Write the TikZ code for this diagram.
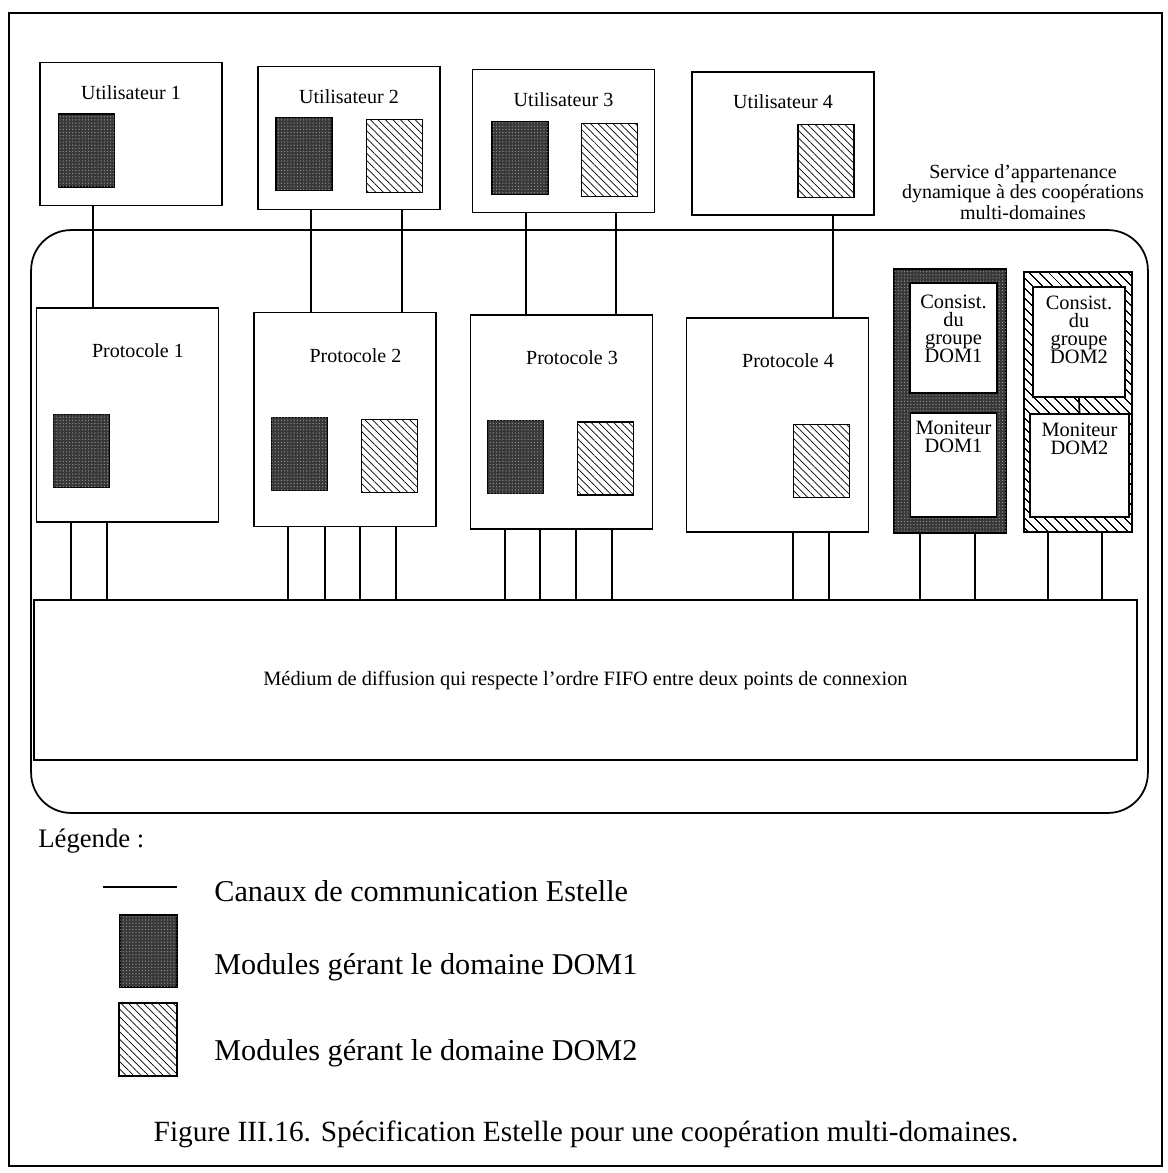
\documentclass[tikz,border=0pt]{standalone}
\usepackage{fontspec}
\setmainfont{Liberation Serif}
\usetikzlibrary{patterns.meta}

\tikzset{
  box/.style={draw, line width=1pt, fill=white, inner sep=0pt},
  userbox/.style={box, minimum width=3.64cm, minimum height=2.86cm},
  protobox/.style={box, minimum width=3.64cm, minimum height=4.28cm},
  darkfill/.style={fill=black!78, postaction={pattern={Dots[distance=1.8pt, radius=0.4pt]}, pattern color=black!45}},
  hatchfill/.style={pattern={Lines[angle=-45, distance=3pt, line width=0.4pt]}},
  dommod/.style={draw, line width=1pt, minimum width=1.12cm, minimum height=1.46cm, darkfill},
  hatchmod/.style={draw, line width=1pt, minimum width=1.12cm, minimum height=1.46cm, hatchfill},
  chan/.style={line width=1.6pt},
  small/.style={inner sep=0pt, font=\fontsize{11.4}{11.5}\selectfont},
  tight/.style={inner sep=0pt, align=center, font=\fontsize{11.6}{10.3}\selectfont},
  big/.style={inner sep=0pt, font=\fontsize{17.2}{19}\selectfont},
}

\begin{document}
\begin{tikzpicture}[x=0.02cm, y=-0.02cm]
    \useasboundingbox (0,0) rectangle (1168,1173);
    % page frame and service container
    \draw[line width=0.9pt] (9,13) rectangle (1162,1166);
    \node[draw, line width=1pt, rounded corners=0.8cm, minimum width=22.34cm, minimum height=11.66cm] (service) at (589.5,521.5) {};
    \node[small, align=center] (servicet) at (1023,192) {Service d'appartenance\\dynamique à des coopérations\\multi-domaines};
    % users and protocols
    \foreach \i/\x/\y in {1/131/134, 2/349/138, 3/563.5/141, 4/783/143.5} {
        \node[userbox] (u\i) at (\x,\y) {};
        \node[small] (u\i t) at (\x,\y-41.5) {Utilisateur \i};
    }
    \foreach \i/\x/\y in {1/127.5/415, 2/345/419.5, 3/561.5/422, 4/777.5/425} {
        \node[protobox] (p\i) at (\x,\y) {};
        \node[small] (p\i t) at (\x+10.5,\y-64) {Protocole \i};
    }
    % modules of DOM1 and DOM2
    \foreach \x/\y [count=\k] in {86.5/150.5, 304/154, 520/158, 81.5/451, 299.5/454, 515.5/457}
        \node[dommod] (d\k) at (\x,\y) {};
    \foreach \x/\y [count=\k] in {394.5/156, 609.5/160, 826/161, 389.5/456, 605.5/458.5, 821.5/461}
        \node[hatchmod] (h\k) at (\x,\y) {};
    % group consistency and monitors
    \node[draw, line width=1pt, minimum width=2.24cm, minimum height=5.28cm, darkfill] (dom1) at (950,401) {};
    \node[box, minimum width=1.74cm, minimum height=2.2cm] (cons1) at (953.5,338) {};
    \node[box, minimum width=1.72cm, minimum height=2.08cm] (mon1) at (953.5,465) {};
    \node[tight] (cons1t) at (953.5,329) {Consist.\\du\\groupe\\DOM1};
    \node[tight] (mon1t) at (953.5,437) {Moniteur\\DOM1};
    \node[draw, line width=1pt, minimum width=2.16cm, minimum height=5.2cm, pattern={Lines[angle=-45, distance=4pt, line width=0.7pt]}] (dom2) at (1078,402) {};
    \node[box, minimum width=1.84cm, minimum height=2.2cm] (cons2) at (1079,342) {};
    \node[box, minimum width=1.98cm, minimum height=2.06cm] (mon2) at (1079.5,465.5) {};
    \node[tight] (cons2t) at (1079,330) {Consist.\\du\\groupe\\DOM2};
    \node[tight] (mon2t) at (1079.5,439) {Moniteur\\DOM2};
    \draw[line width=1pt] (cons2.south) -- (mon2.north);
    % broadcast medium
    \node[box, minimum width=22.06cm, minimum height=3.2cm, font=\fontsize{11.6}{12}\selectfont] (medium) at (585.5,680) {Médium de diffusion qui respecte l'ordre FIFO entre deux points de connexion};
    % Estelle channels
    \foreach \x/\a/\b in {93/u1/p1, 311/u2/p2, 402/u2/p2, 526/u3/p3, 616/u3/p3, 833/u4/p4}
        \draw[chan] (\x,0 |- \a.south) -- (\x,0 |- \b.north);
    \foreach \x/\a in {71/p1, 107/p1, 288/p2, 325/p2, 360/p2, 396/p2, 505/p3, 540/p3, 576/p3, 612/p3, 793/p4, 829/p4, 920/dom1, 975/dom1, 1048/dom2, 1102/dom2}
        \draw[chan] (\x,0 |- \a.south) -- (\x,0 |- medium.north);
    % legend
    \node[big, anchor=west, font=\fontsize{15.2}{18}\selectfont] (leg) at (38,841) {Légende :};
    \coordinate (legl) at (103,887);
    \coordinate (legr) at (177,887);
    \draw[chan] (legl) -- (legr);
    \node[big, anchor=west] (legct) at (214,891) {Canaux de communication Estelle};
    \node[dommod, minimum width=1.14cm, minimum height=1.44cm] (legd) at (148.5,951) {};
    \node[big, anchor=west] (legdt) at (214,967) {Modules gérant le domaine DOM1};
    \node[hatchmod, minimum width=1.16cm, minimum height=1.46cm] (legh) at (148,1039.5) {};
    \node[big, anchor=west] (leght) at (214,1053) {Modules gérant le domaine DOM2};
    \node[big, font=\fontsize{16.7}{19}\selectfont] (caption) at (586,1134) {Figure III.16. Spécification Estelle pour une coopération multi-domaines.};
\end{tikzpicture}
\end{document}
